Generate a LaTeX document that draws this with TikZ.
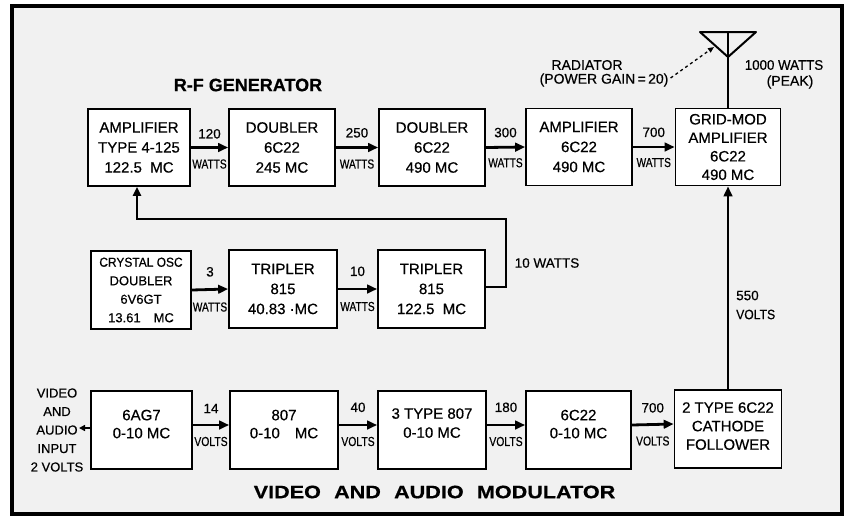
\documentclass[tikz,border=0pt]{standalone}
\usepackage{fontspec}
\setmainfont{Liberation Sans}[FakeBold=0.5]
\usetikzlibrary{arrows.meta,calc}
\newcommand\wlbl{\scalebox{0.78}[1]{WATTS}}
\newcommand\vlbl{\scalebox{0.8}[1]{VOLTS}}
\begin{document}
\begin{tikzpicture}[x=1pt,y=-1pt,
  box/.style={draw, fill=white, line width=1.7pt, inner sep=0pt, align=center,
    font=\fontsize{15}{20}\selectfont},
  conn/.style={line width=2.8pt, -{Triangle[length=10pt,width=8.5pt]}},
  num/.style={font=\fontsize{13.5}{13.5}\selectfont, inner sep=1.5pt},
  unitl/.style={font=\fontsize{13}{13}\selectfont, inner sep=1.5pt},
  txt/.style={font=\fontsize{14}{16}\selectfont, inner sep=1pt},
  head/.style={font=\bfseries\fontsize{18}{18}\selectfont, inner sep=1pt}]
\useasboundingbox (0,0) rectangle (848,520);
\fill[white] (0,0) rectangle (848,520);
\fill[gray!11] (12,6) rectangle (842,514);
\draw[line width=3.4pt] (12,6) rectangle (842,514);

% headings
\node[head] (rfg) at (248,85) {R-F GENERATOR};
\node[head] (vam) at (434.5,492) {\scalebox{1.2}[1]{VIDEO\hspace{11pt}AND\hspace{11pt}AUDIO\hspace{11pt}MODULATOR}};

% row 1
\node[box, minimum width=102pt, minimum height=77pt] (amp) at (139,147.5) {AMPLIFIER\\TYPE 4-125\\122.5\ \ MC};
\node[box, minimum width=106pt, minimum height=77pt] (dbl1) at (282,147.5) {DOUBLER\\6C22\\245 MC};
\node[box, minimum width=106pt, minimum height=77pt] (dbl2) at (432,147.5) {DOUBLER\\6C22\\490 MC};
\node[box, minimum width=106pt, minimum height=77pt] (amp2) at (579,147) {AMPLIFIER\\6C22\\490 MC};
\node[box, minimum width=105pt, minimum height=77pt, font=\fontsize{15}{18.5}\selectfont] (grid) at (728,147) {GRID-MOD\\AMPLIFIER\\6C22\\490 MC};

% row 2
\node[box, minimum width=100pt, minimum height=78pt, font=\fontsize{13}{18.5}\selectfont] (crys) at (141,290) {\scalebox{0.92}[1]{CRYSTAL OSC}\\DOUBLER\\6V6GT\\13.61\quad MC};
\node[box, minimum width=108pt, minimum height=78pt] (trip1) at (283,289) {TRIPLER\\815\\40.83 ·MC};
\node[box, minimum width=107pt, minimum height=78pt] (trip2) at (431.5,289) {TRIPLER\\815\\122.5\ \ MC};

% row 3
\node[box, minimum width=101pt, minimum height=78pt, text depth=12pt, font=\fontsize{15}{18}\selectfont] (in6) at (141.5,430) {6AG7\\0-10 MC};
\node[box, minimum width=108pt, minimum height=78pt, text depth=12pt, font=\fontsize{15}{18}\selectfont] (b807) at (284,430) {807\\0-10\quad MC};
\node[box, minimum width=108pt, minimum height=78pt, text depth=14pt, font=\fontsize{15}{19}\selectfont] (b3807) at (432,430) {3 TYPE 807\\0-10 MC};
\node[box, minimum width=105pt, minimum height=78pt, text depth=12pt, font=\fontsize{15}{18}\selectfont] (b6c22) at (578.5,430) {6C22\\0-10 MC};
\node[box, minimum width=107pt, minimum height=78pt, text depth=6pt, font=\fontsize{15}{18.5}\selectfont] (cath) at (728,429) {2 TYPE 6C22\\CATHODE\\FOLLOWER};

% row 1 connectors
\draw[conn] (amp.east) -- node[num,above=6pt]{120} node[unitl,below=9pt]{\wlbl} (dbl1.west);
\draw[conn] (dbl1.east) -- node[num,above=7pt]{250} node[unitl,below=9pt]{\wlbl} (dbl2.west);
\draw[conn] (dbl2.east) -- node[num,above=7pt]{300} node[unitl,below=8pt]{\wlbl} (amp2.west);
\draw[conn] (amp2.east) -- node[num,above=7pt]{700} node[unitl,below=8pt]{\wlbl} (grid.west);

% row 2 connectors
\draw[conn] (crys.east) -- node[num,above=10pt]{3} node[unitl,below=10pt]{\wlbl} (trip1.west);
\draw[conn] (trip1.east) -- node[num,above=10pt]{10} node[unitl,below=10pt]{\wlbl} (trip2.west);

% feedback
\coordinate (fbR) at (506,219);
\draw[line width=2.5pt, -{Triangle[length=9pt,width=8pt]}] ([yshift=2pt]trip2.east) -| (fbR) -| ([xshift=-2pt]amp.south);
\node[txt, font=\fontsize{13.5}{15}\selectfont] (tenw) at (547,263) {10 WATTS};

% row 3 connectors
\draw[conn] ([yshift=5pt]in6.east) -- node[num,above=9pt]{14} node[unitl,below=9pt]{\vlbl} ([yshift=5pt]b807.west);
\draw[conn] ([yshift=5pt]b807.east) -- node[num,above=10pt]{40} node[unitl,below=9pt]{\vlbl} ([yshift=5pt]b3807.west);
\draw[conn] ([yshift=5pt]b3807.east) -- node[num,above=10pt]{180} node[unitl,below=9pt]{\vlbl} ([yshift=5pt]b6c22.west);
\draw[conn] ([yshift=5pt]b6c22.east) -- node[num,above=9pt]{700} node[unitl,below=9pt]{\vlbl} ([yshift=5pt]cath.west);

% input
\node[txt, align=center, font=\fontsize{13}{18.5}\selectfont] (inp) at (57,430) {VIDEO\\AND\\AUDIO\\INPUT\\2 VOLTS};
\coordinate (inarr) at (79,428);
\draw[line width=1.6pt, -{Triangle[length=6pt,width=6pt]}] ([yshift=2pt]in6.west) -- (inarr);

% modulator to grid-mod
\draw[conn] (cath.north) -- (grid.south);
\node[txt, anchor=west, align=left, font=\fontsize{13.5}{19}\selectfont] (volts) at (735,305) {550\\\scalebox{0.9}[1]{VOLTS}};

% antenna
\coordinate (antL) at (700,32);
\coordinate (antR) at (756,32);
\coordinate (antA) at (728,57);
\coordinate (antT) at (728,32);
\draw[line width=2pt, line join=round] (antL) -- (antR) -- (antA) -- cycle;
\draw[line width=2pt] (antT) -- (grid.north);
\node[txt] (rad) at (587,65) {RADIATOR};
\node[txt] (gain) at (604,80) {(POWER GAIN\,=\,20)};
\coordinate (antP) at (714,47);
\draw[line width=1.3pt, dashed, -{Triangle[length=6pt,width=5pt]}] ([xshift=1pt,yshift=2pt]gain.east) -- (antP);
\node[txt] (kw) at (784,65) {\scalebox{0.95}[1]{1000 WATTS}};
\node[txt] (peak) at (790,82) {(PEAK)};
\end{tikzpicture}
\end{document}
